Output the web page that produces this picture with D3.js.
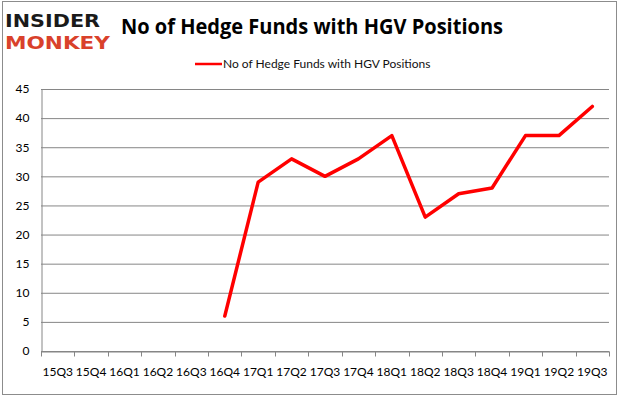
<!DOCTYPE html>
<html>
<head>
<meta charset="utf-8">
<script src="https://cdn.jsdelivr.net/npm/d3@7"></script>
<style>
  body { margin: 0; background: #fff; }
  text { font-family: Lato, "Open Sans", sans-serif; }
</style>
</head>
<body>
<div id="chart"></div>
<script>
// quarters on the x axis
const quarters = ["15Q3", "15Q4", "16Q1", "16Q2", "16Q3", "16Q4", "17Q1", "17Q2", "17Q3",
                  "17Q4", "18Q1", "18Q2", "18Q3", "18Q4", "19Q1", "19Q2", "19Q3"];
// hedge fund counts, null where there is no data
const funds = [null, null, null, null, null, 6, 29, 33, 30, 33, 37, 23, 27, 28, 37, 37, 42];
const yTicks = [0, 5, 10, 15, 20, 25, 30, 35, 40, 45];
const seriesName = "No of Hedge Funds with HGV Positions";

const WIDTH  = 626;
const HEIGHT = 397;
const MARGIN = { top: 89, right: 17, bottom: 46, left: 41 };
const INNER_WIDTH  = WIDTH - MARGIN.left - MARGIN.right;
const INNER_HEIGHT = HEIGHT - MARGIN.top - MARGIN.bottom;

const svg = d3.select("#chart")
  .append("svg")
  .attr("width", WIDTH)
  .attr("height", HEIGHT);

// outer frame
svg.append("rect")
  .attr("x", 2.5).attr("y", 1.5)
  .attr("width", 614).attr("height", 393)
  .attr("fill", "none")
  .attr("stroke", "#8c8c8c")
  .attr("stroke-width", 1);

// logo
svg.append("text")
  .attr("x", 5).attr("y", 27)
  .attr("textLength", 95).attr("lengthAdjust", "spacingAndGlyphs")
  .style("font-family", "'DejaVu Sans'")
  .style("font-weight", "bold")
  .style("font-size", "18.5px")
  .style("fill", "#1a1a1a")
  .text("INSIDER");
svg.append("text")
  .attr("x", 5).attr("y", 49)
  .attr("textLength", 105).attr("lengthAdjust", "spacingAndGlyphs")
  .style("font-family", "'DejaVu Sans'")
  .style("font-weight", "bold")
  .style("font-size", "18.5px")
  .style("fill", "#d9412b")
  .text("MONKEY");

// title
svg.append("text")
  .attr("x", 121).attr("y", 34)
  .attr("textLength", 382).attr("lengthAdjust", "spacingAndGlyphs")
  .style("font-family", "'Open Sans'")
  .style("font-weight", "bold")
  .style("font-size", "21px")
  .style("fill", "#000")
  .text("No of Hedge Funds with HGV Positions");

// legend
svg.append("line")
  .attr("x1", 195).attr("x2", 222)
  .attr("y1", 64).attr("y2", 64)
  .attr("stroke", "red").attr("stroke-width", 2.5);
svg.append("text")
  .attr("x", 223).attr("y", 68)
  .style("font-size", "12px")
  .style("fill", "#111")
  .text(seriesName);

const g = svg.append("g")
  .attr("transform", "translate(" + MARGIN.left + "," + MARGIN.top + ")");

const x = d3.scaleBand()
  .domain(quarters)
  .range([0, INNER_WIDTH]);

const y = d3.scaleLinear()
  .domain([0, 45])
  .range([INNER_HEIGHT, 0]);

// horizontal grid
g.append("g")
  .selectAll("line")
  .data(yTicks)
  .enter()
  .append("line")
  .attr("x1", 0).attr("x2", INNER_WIDTH)
  .attr("y1", d => y(d) + 0.5).attr("y2", d => y(d) + 0.5)
  .attr("stroke", "#868686")
  .attr("stroke-width", 1);

// y axis
const yAxis = g.append("g")
  .attr("transform", "translate(0.5,0)")
  .call(d3.axisLeft(y).tickValues(yTicks).tickSize(0).tickPadding(12));
yAxis.select(".domain").attr("stroke", "#868686");
yAxis.selectAll("text")
  .style("font-family", "Lato, 'Open Sans', sans-serif")
  .style("font-size", "12px")
  .style("fill", "#000");

// x axis, ticks sit on the category boundaries
const xAxis = g.append("g")
  .attr("transform", "translate(0," + (INNER_HEIGHT + 0.5) + ")")
  .call(d3.axisBottom(x).tickSize(0).tickPadding(16));
xAxis.select(".domain").attr("stroke", "#868686");
xAxis.selectAll("text")
  .style("font-family", "Lato, 'Open Sans', sans-serif")
  .style("font-size", "12px")
  .style("fill", "#000");
xAxis.selectAll(".bound")
  .data(d3.range(quarters.length + 1))
  .enter()
  .append("line")
  .attr("x1", i => Math.round(i * x.bandwidth()) + 0.5)
  .attr("x2", i => Math.round(i * x.bandwidth()) + 0.5)
  .attr("y1", 0).attr("y2", 5)
  .attr("stroke", "#868686");

const line = d3.line()
  .defined(d => d.v !== null)
  .x(d => x(d.q) + x.bandwidth() / 2)
  .y(d => y(d.v));

g.append("path")
  .attr("fill", "none")
  .attr("stroke", "red")
  .attr("stroke-width", 3.5)
  .attr("stroke-linejoin", "round")
  .attr("stroke-linecap", "round")
  .attr("d", line(quarters.map((q, i) => ({ q: q, v: funds[i] }))));
</script>
</body>
</html>
